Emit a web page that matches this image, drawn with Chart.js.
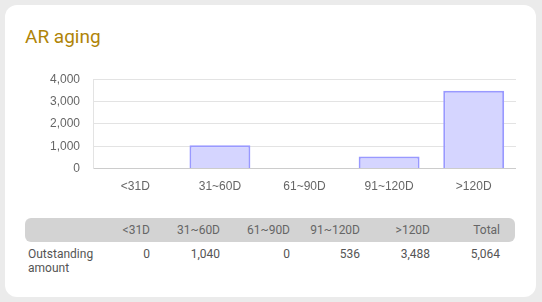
<!DOCTYPE html>
<html>
<head>
<meta charset="utf-8">
<script src="https://cdn.jsdelivr.net/npm/chart.js@4/dist/chart.umd.min.js"></script>
<style>
    html, body { margin: 0; padding: 0; background: #ebebeb; width: 542px; height: 302px; overflow: hidden; }
    .card {
        position: absolute; left: 5px; top: 5px; width: 531px; height: 292px;
        background: #fff; border-radius: 12px;
    }
    .title {
        position: absolute; left: 20px; top: 20px; margin: 0;
        font: 400 19px Roboto, sans-serif; color: #b08408;
    }
    .chart-box { position: absolute; left: 32px; top: 54px; width: 479px; height: 146px; }
    table.aging {
        position: absolute; left: 20px; top: 213px; width: 490px;
        border-collapse: separate; border-spacing: 0; table-layout: fixed;
        font: 400 12px Roboto, sans-serif; color: #555;
    }
    table.aging th, table.aging td { width: 70px; text-align: right; padding: 0 15px 0 0; box-sizing: border-box; }
    table.aging th { background: #d3d3d3; color: #666; font-weight: 400; height: 24px; }
    table.aging th:first-child { border-radius: 6px 0 0 6px; }
    table.aging th:last-child { border-radius: 0 6px 6px 0; }
    table.aging td { vertical-align: top; padding-top: 6px; line-height: 13.5px; }
    table.aging td:first-child, table.aging th:first-child { text-align: left; padding: 0 4px 0 3px; }
    table.aging td:first-child { padding-top: 6px; }
</style>
</head>
<body>
<div class="card">
    <h1 class="title">AR aging</h1>
    <div class="chart-box"><canvas id="chart"></canvas></div>
    <table class="aging" id="agingTable"></table>
</div>
<script>
const buckets = ['<31D', '31~60D', '61~90D', '91~120D', '>120D'];
const outstanding = [0, 1040, 0, 536, 3488];
const rowLabel = 'Outstanding amount';
const yTicks = [0, 1000, 2000, 3000, 4000];

// table under the chart - same buckets + a Total column
const fmt = v => v.toLocaleString('en-US');
const table = document.getElementById('agingTable');
const head = document.createElement('tr');
['', ...buckets, 'Total'].forEach(t => {
    const th = document.createElement('th');
    th.textContent = t;
    head.appendChild(th);
});
table.appendChild(head);
const row = document.createElement('tr');
const total = outstanding.reduce((a, b) => a + b, 0);
[rowLabel, ...outstanding.map(fmt), fmt(total)].forEach(t => {
    const td = document.createElement('td');
    td.textContent = t;
    row.appendChild(td);
});
table.appendChild(row);

new Chart(document.getElementById('chart').getContext('2d'), {
    type: 'bar',
    data: {
        labels: buckets,
        datasets: [{
            data: outstanding,
            backgroundColor: '#d5d5ff',
            borderColor: '#9999ff',
            borderWidth: 2
        }]
    },
    options: {
        responsive: true, maintainAspectRatio: false, animation: false,
        plugins: { legend: { display: false }, tooltip: { enabled: false } },
        scales: {
            x: {
                grid: { display: false, drawTicks: false },
                border: { color: '#cccccc' },
                ticks: { color: '#666', font: { size: 12 }, padding: 11 }
            },
            y: {
                min: 0, max: 4000,
                afterBuildTicks: axis => { axis.ticks = yTicks.map(value => ({ value })); },
                grid: { color: '#e3e3e3', drawTicks: false },
                border: { color: '#e3e3e3' },
                ticks: { color: '#666', font: { size: 12 }, padding: 13, autoSkip: false, callback: v => fmt(v) }
            }
        }
    }
});
</script>
</body>
</html>
